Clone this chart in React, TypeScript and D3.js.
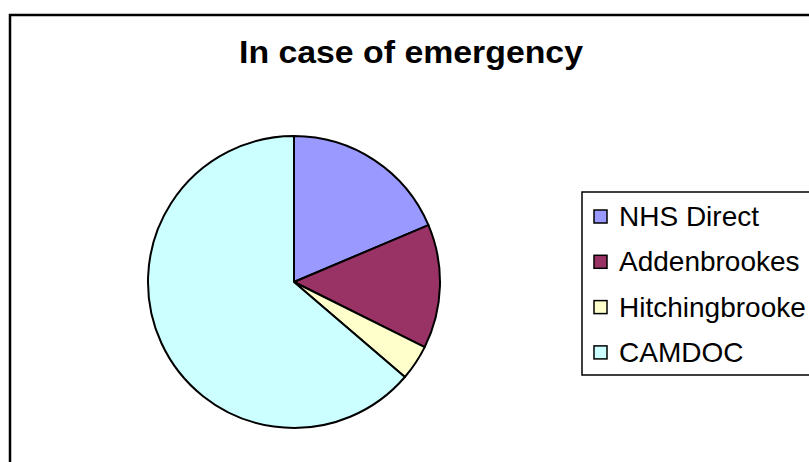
import React from "react";
import * as d3 from "d3";

const categories = ["NHS Direct", "Addenbrookes", "Hitchingbrooke", "CAMDOC"];
const values = [19, 14, 4, 65];
const colors = ["#9999FF", "#993366", "#FFFFCC", "#CCFFFF"];
const title = "In case of emergency";

const W = 809;
const H = 462;

export default function App() {
  const cx = 294;
  const cy = 282;
  const r = 146;
  const pie = d3.pie<number>().sort(null).value((d) => d)(values);
  const arc = d3.arc<d3.PieArcDatum<number>>().innerRadius(0).outerRadius(r);

  const legX = 582;
  const legY = 192;
  const legStep = 45.3;
  const first = 226;

  return (
    <svg
      width={W}
      height={H}
      style={{ position: "absolute", left: 0, top: 0, background: "#fff" }}
      fontFamily="'Liberation Sans', Arial, sans-serif"
    >
      <rect x={10} y={15} width={W + 20} height={H + 20} fill="#fff" stroke="#000" strokeWidth={2.5} />
      <text
        x={411}
        y={63}
        textAnchor="middle"
        fontSize={31}
        fontWeight="bold"
        fill="#000"
        textLength={344}
        lengthAdjust="spacingAndGlyphs"
      >
        {title}
      </text>
      <g transform={`translate(${cx},${cy})`}>
        {pie.map((p, i) => (
          <path key={i} d={arc(p) || ""} fill={colors[i]} stroke="#000" strokeWidth={2} strokeLinejoin="round" />
        ))}
      </g>
      <rect x={legX} y={legY} width={W} height={183} fill="#fff" stroke="#000" strokeWidth={1.5} />
      {categories.map((c, i) => (
        <g key={c}>
          <rect
            x={594}
            y={first + i * legStep - 16}
            width={13}
            height={13}
            fill={colors[i]}
            stroke="#000"
            strokeWidth={1.5}
          />
          <text x={619} y={first + i * legStep} fontSize={28} fill="#000">
            {c}
          </text>
        </g>
      ))}
    </svg>
  );
}
